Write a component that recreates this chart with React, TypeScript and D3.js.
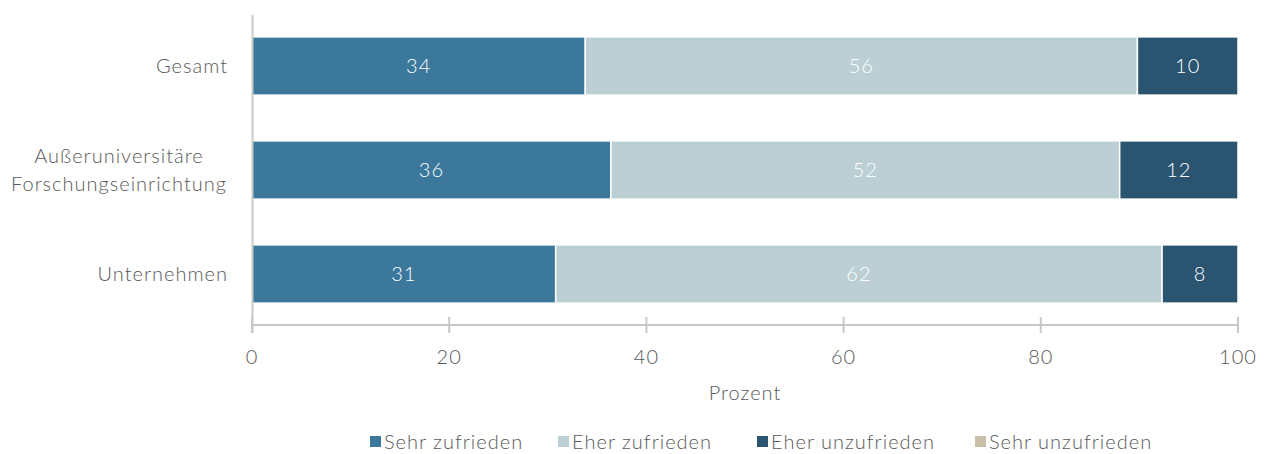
import React from "react";
import * as d3 from "d3";

const categories = ["Gesamt", "Außeruniversitäre\nForschungseinrichtung", "Unternehmen"];
const seriesNames = ["Sehr zufrieden", "Eher zufrieden", "Eher unzufrieden", "Sehr unzufrieden"];
const sehrZufrieden = [33.8, 36.4, 30.8];
const eherZufrieden = [56.0, 51.6, 61.5];
const eherUnzufrieden = [10.2, 12.0, 7.7];
const sehrUnzufrieden = [0, 0, 0];
const xTicks = [0, 20, 40, 60, 80, 100];
const colors = ["#3b789c", "#bccfd4", "#2a5470", "#c9bfa8"];

const W = 1266;
const H = 454;
const FONT = "Lato, 'Open Sans', sans-serif";
const TEXT = "#595959";
const FS = 20;
const LS = 1;

export default function App() {
  const seriesValues = [sehrZufrieden, eherZufrieden, eherUnzufrieden, sehrUnzufrieden];
  const rows = categories.map((c, i) => {
    const o: any = { cat: c };
    seriesNames.forEach((s, j) => (o[s] = seriesValues[j][i]));
    return o;
  });
  const stack = d3.stack<any>().keys(seriesNames)(rows);
  const x = d3.scaleLinear().domain([0, 100]).range([252, 1238]);
  const y = d3.scaleBand().domain(categories).range([14, 326]).paddingInner(0.44).paddingOuter(0.22);
  const axisY = 325;

  const legendX = [370, 558, 757, 975];

  return (
    <svg width={W} height={H} style={{ position: "absolute", left: 0, top: 0, background: "#fff" }} fontFamily={FONT} letterSpacing={LS}>
      {stack.map((layer, si) =>
        layer.map((d, i) => {
          const v = d[1] - d[0];
          if (v <= 0) return null;
          const x0 = x(d[0]);
          const x1 = x(d[1]);
          const yy = y(categories[i])!;
          return (
            <g key={`${si}-${i}`}>
              <rect x={x0} y={yy} width={x1 - x0} height={y.bandwidth()} fill={colors[si]} stroke="#fff" strokeWidth={1.5} />
              <text x={(x0 + x1) / 2} y={yy + y.bandwidth() / 2} dy="0.35em" textAnchor="middle" fill="#fff" fontSize={FS} fontWeight={300}>
                {Math.round(v)}
              </text>
            </g>
          );
        })
      )}
      <line x1={252.5} x2={252.5} y1={15} y2={333} stroke="#c8c8c8" strokeWidth={2} />
      <line x1={252} x2={1239} y1={axisY} y2={axisY} stroke="#c8c8c8" strokeWidth={2} />
      {xTicks.map((t) => (
        <g key={t}>
          <line x1={x(t)} x2={x(t)} y1={317} y2={333} stroke="#c8c8c8" strokeWidth={2} />
          <text x={x(t)} y={364} textAnchor="middle" fill={TEXT} fontSize={FS} fontWeight={300}>
            {t}
          </text>
        </g>
      ))}
      <text x={(x(0) + x(100)) / 2} y={400} textAnchor="middle" fill={TEXT} fontSize={FS} fontWeight={300}>
        Prozent
      </text>
      {categories.map((c) => {
        const lines = c.split("\n");
        const cy = y(c)! + y.bandwidth() / 2;
        const lh = 28;
        return (
          <g key={c}>
            {lines.map((l, k) => (
              <text
                key={k}
                x={lines.length > 1 ? 119 : 228}
                y={cy + (k - (lines.length - 1) / 2) * lh}
                dy="0.35em"
                textAnchor={lines.length > 1 ? "middle" : "end"}
                fill={TEXT}
                fontSize={FS}
                fontWeight={300}
              >
                {l}
              </text>
            ))}
          </g>
        );
      })}
      {seriesNames.map((s, i) => (
        <g key={s}>
          <rect x={legendX[i]} y={436} width={11} height={11} fill={colors[i]} />
          <text x={legendX[i] + 14} y={441.5} dy="0.35em" fill={TEXT} fontSize={FS} fontWeight={300}>
            {s}
          </text>
        </g>
      ))}
    </svg>
  );
}
